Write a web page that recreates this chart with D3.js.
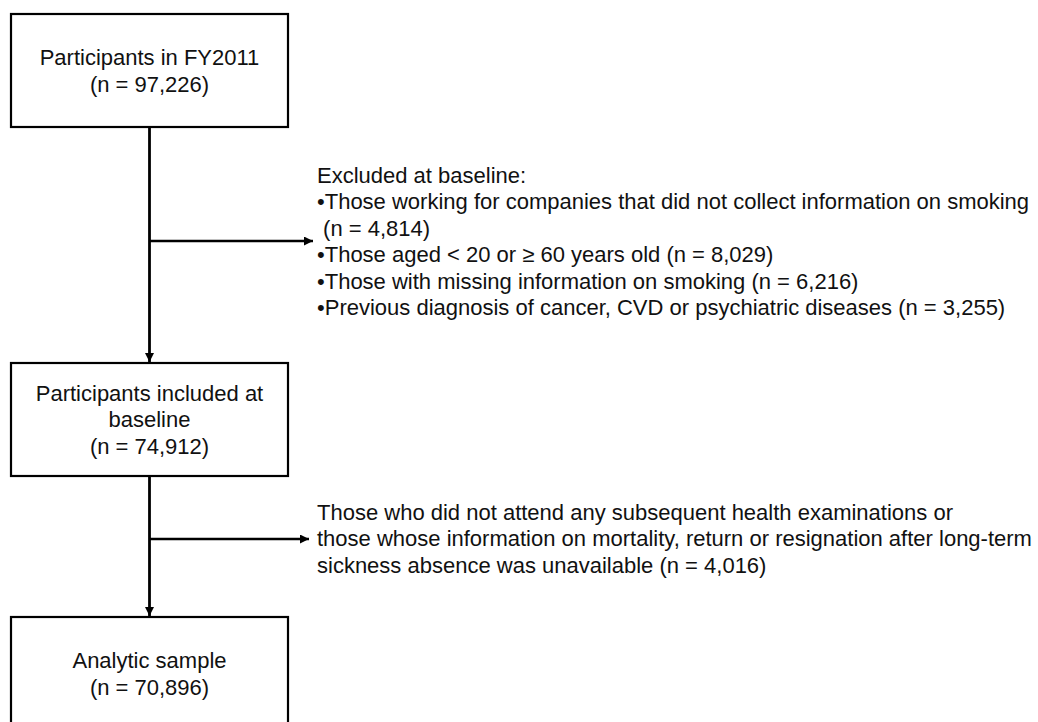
<!DOCTYPE html>
<html>
<head>
<meta charset="utf-8">
<script src="https://cdn.jsdelivr.net/npm/d3@7"></script>
<style>
  html, body { margin: 0; padding: 0; background: #fff; }
  svg { display: block; }
</style>
</head>
<body>
<div id="chart"></div>
<script>
// flow stages (box text) and the exclusion notes between them
const stageLabels = [
  ['Participants in FY2011', '(n = 97,226)'],
  ['Participants included at', 'baseline', '(n = 74,912)'],
  ['Analytic sample', '(n = 70,896)']
];
const stageCounts = [97226, 74912, 70896];

const exclusion1 = [
  'Excluded at baseline:',
  '\u2022Those working for companies that did not collect information on smoking',
  ' (n = 4,814)',
  '\u2022Those aged < 20 or \u2265 60 years old (n = 8,029)',
  '\u2022Those with missing information on smoking (n = 6,216)',
  '\u2022Previous diagnosis of cancer, CVD or psychiatric diseases (n = 3,255)'
];
const exclusion2 = [
  'Those who did not attend any subsequent health examinations or',
  'those whose information on mortality, return or resignation after long-term',
  'sickness absence was unavailable (n = 4,016)'
];

const W = 1038, H = 722;
const font = 'Liberation Sans, Arial, sans-serif';
const fs = 22;
const lh = 26.4;

const boxX = 11, boxW = 277, boxH = 113;
const boxTops = [14, 363, 617];
const midX = boxX + boxW / 2;
const textX = 317;

const svg = d3.select('#chart')
  .append('svg')
  .attr('width', W)
  .attr('height', H);

const defs = svg.append('defs');
defs.append('marker')
  .attr('id', 'head')
  .attr('viewBox', '0 0 10 10')
  .attr('refX', 10)
  .attr('refY', 5)
  .attr('markerWidth', 9)
  .attr('markerHeight', 9)
  .attr('markerUnits', 'userSpaceOnUse')
  .attr('orient', 'auto')
  .append('path')
  .attr('d', 'M0,0 L10,5 L0,10 Z')
  .attr('fill', '#000');

// boxes
const boxes = svg.selectAll('g.stage')
  .data(stageLabels)
  .join('g')
  .attr('class', 'stage')
  .attr('transform', (d, i) => `translate(${boxX}, ${boxTops[i]})`);

boxes.append('rect')
  .attr('width', boxW)
  .attr('height', boxH)
  .attr('fill', '#fff')
  .attr('stroke', '#000')
  .attr('stroke-width', 2.2);

boxes.each(function(d) {
  const n = d.length;
  const first = boxH / 2 - (n - 1) * lh / 2 + fs * 0.36;
  d3.select(this).selectAll('text')
    .data(d)
    .join('text')
    .attr('x', boxW / 2)
    .attr('y', (t, j) => first + j * lh)
    .attr('text-anchor', 'middle')
    .style('font-family', font)
    .style('font-size', fs + 'px')
    .style('fill', '#111')
    .text(t => t);
});

// vertical connectors
for (let i = 0; i < boxTops.length - 1; i++) {
  svg.append('line')
    .attr('x1', midX).attr('x2', midX)
    .attr('y1', boxTops[i] + boxH)
    .attr('y2', boxTops[i + 1] - 1)
    .attr('stroke', '#000')
    .attr('stroke-width', 2.8)
    .attr('marker-end', 'url(#head)');
}

// side arrows + notes
const notes = [
  { lines: exclusion1, arrowY: 241, arrowEnd: 313, firstY: 183 },
  { lines: exclusion2, arrowY: 539, arrowEnd: 309, firstY: 520 }
];

notes.forEach(n => {
  svg.append('line')
    .attr('x1', midX).attr('x2', n.arrowEnd)
    .attr('y1', n.arrowY).attr('y2', n.arrowY)
    .attr('stroke', '#000')
    .attr('stroke-width', 2.4)
    .attr('marker-end', 'url(#head)');

  svg.append('g')
    .selectAll('text')
    .data(n.lines)
    .join('text')
    .attr('x', textX)
    .attr('y', (t, j) => n.firstY + j * lh)
    .style('font-family', font)
    .style('font-size', fs + 'px')
    .style('fill', '#111')
    .style('white-space', 'pre')
    .attr('xml:space', 'preserve')
    .text(t => t);
});
</script>
</body>
</html>
